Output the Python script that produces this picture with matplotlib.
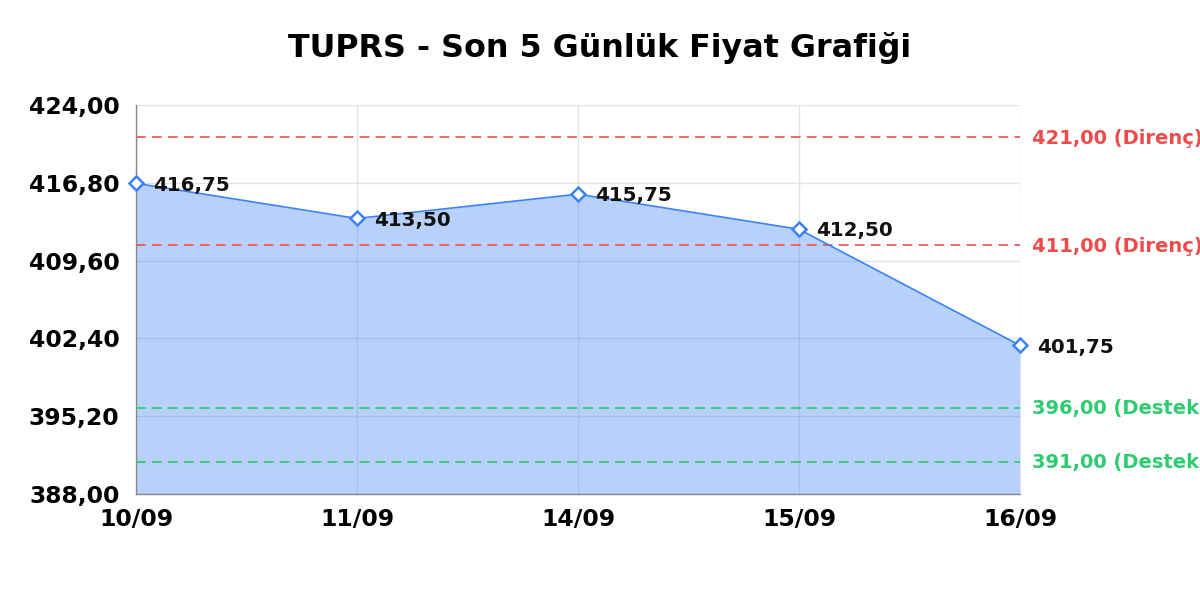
import os
import matplotlib
matplotlib.use("Agg")
import matplotlib.pyplot as plt
from matplotlib.ticker import FuncFormatter
from matplotlib import font_manager as fm

dates = ["10/09", "11/09", "14/09", "15/09", "16/09"]
prices = [416.75, 413.50, 415.75, 412.50, 401.75]
resistance = [421.00, 411.00]
support = [396.00, 391.00]
y_ticks = [388.0, 395.2, 402.4, 409.6, 416.8, 424.0]
title = "TUPRS - Son 5 Günlük Fiyat Grafiği"

def tr(v):
    return f"{v:.2f}".replace(".", ",")

bold_path = os.path.join(matplotlib.get_data_path(), "fonts", "ttf", "DejaVuSans-Bold.ttf")
def fp(size):
    return fm.FontProperties(fname=bold_path, size=size)

plt.rcParams['lines.scale_dashes'] = False

fig = plt.figure(figsize=(12, 6), dpi=100)
ax = fig.add_axes([136/1200, 106/600, (1020-136)/1200, (494-105)/600])

x = list(range(len(dates)))
ax.set_xlim(0, len(dates) - 1)
ax.set_ylim(y_ticks[0], y_ticks[-1])
ax.set_yticks(y_ticks)
ax.yaxis.set_major_formatter(FuncFormatter(lambda v, p: tr(v)))
ax.set_xticks(x)
ax.set_xticklabels(dates)

ax.grid(True, color="#e3e3e3", linewidth=1.0, zorder=0)
ax.set_axisbelow(True)
for s in ["top", "right"]:
    ax.spines[s].set_visible(False)
for s in ["left", "bottom"]:
    ax.spines[s].set_color("#888888")
    ax.spines[s].set_linewidth(1.0)

ax.tick_params(length=0)
ax.tick_params(axis="y", pad=12)
ax.tick_params(axis="x", pad=10)
for lab in ax.get_xticklabels() + ax.get_yticklabels():
    lab.set_fontproperties(fp(16.9))

ax.fill_between(x, prices, y_ticks[0], color="#3b82f6", alpha=0.36, linewidth=0, zorder=1)
ax.plot(x, prices, color="#3b82f6", linewidth=1.2, marker="D", markersize=7.2,
        markerfacecolor="white", markeredgecolor="#3b82f6", markeredgewidth=1.8,
        zorder=4, clip_on=False)

for xi, p in zip(x, prices):
    ax.annotate(tr(p), (xi, p), xytext=(12, -1.2), textcoords="offset points",
                ha="left", va="center", fontproperties=fp(14.3),
                color="#111111", zorder=5, annotation_clip=False)

for lv in resistance:
    ax.axhline(lv, color="#f05a5a", linewidth=1.3, linestyle=(0, (7, 4.5)), zorder=3)
    ax.annotate(f"{tr(lv)} (Direnç)", (1, lv), xycoords=("axes fraction", "data"),
                xytext=(9, -1), textcoords="offset points", ha="left", va="center",
                fontproperties=fp(14), color="#ef4b4b", annotation_clip=False)
for lv in support:
    ax.axhline(lv, color="#2ecc71", linewidth=1.3, linestyle=(0, (7, 4.5)), zorder=3)
    ax.annotate(f"{tr(lv)} (Destek)", (1, lv), xycoords=("axes fraction", "data"),
                xytext=(9, -1), textcoords="offset points", ha="left", va="center",
                fontproperties=fp(14), color="#2ecc71", annotation_clip=False)

fig.text(0.5, 1 - 48/600, title, ha="center", va="center", fontproperties=fp(22.9))

fig.savefig("out.png", dpi=100)
